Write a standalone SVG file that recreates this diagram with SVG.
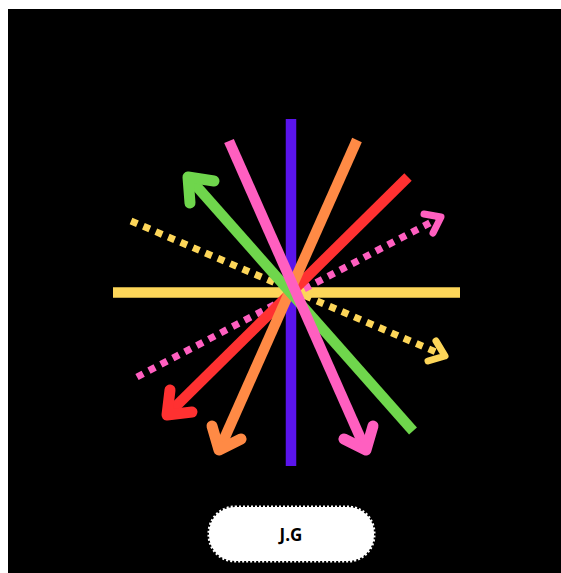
<svg xmlns="http://www.w3.org/2000/svg" width="561" height="573" viewBox="0 0 561 573">
  <style>
    .ln { fill: none; stroke-width: 10.5; stroke-linecap: butt; }
    .hd { fill: none; stroke-width: 11; stroke-linecap: round; stroke-linejoin: round; }
    .dl { fill: none; stroke-width: 7; stroke-dasharray: 7 6.5; }
    .dh { fill: none; stroke-width: 7; stroke-linecap: round; stroke-linejoin: round; }
    .blue { stroke: #5a14ec; }
    .yel { stroke: #fdd659; }
    .pink { stroke: #ff5fc0; }
    .orng { stroke: #ff8a45; }
    .red { stroke: #ff3131; }
    .grn { stroke: #6fd64c; }
  </style>
  <rect x="0" y="0" width="561" height="573" fill="#ffffff"/>
  <rect x="8" y="9" width="553" height="564" fill="#000000"/>
  <g id="connectors">
    <g id="blue-vertical"><line class="ln blue" x1="291" y1="119" x2="291" y2="466"/></g>
    <g id="yellow-horizontal"><line class="ln yel" x1="113" y1="292.5" x2="460" y2="292.5"/></g>
    <g id="yellow-dotted">
      <line class="dl yel" x1="131" y1="221" x2="443" y2="355"/>
      <polyline class="dh yel" points="436,341 445,356 428,361"/>
    </g>
    <g id="pink-dotted">
      <line class="dl pink" x1="137" y1="377" x2="439" y2="218"/>
      <polyline class="dh pink" points="424,214 441,217 433,233"/>
    </g>
    <g id="red-arrow">
      <line class="ln red" x1="408" y1="177" x2="170" y2="412"/>
      <polyline class="hd red" points="170,390 167,415 192,412"/>
    </g>
    <g id="orange-arrow">
      <line class="ln orng" x1="357" y1="140" x2="221" y2="446"/>
      <polyline class="hd orng" points="212,426 219,450 241,439"/>
    </g>
    <g id="green-arrow">
      <line class="ln grn" x1="413" y1="431" x2="191" y2="180"/>
      <polyline class="hd grn" points="190,203 188,177 214,181"/>
    </g>
    <g id="pink-arrow">
      <line class="ln pink" x1="229" y1="141" x2="364" y2="446"/>
      <polyline class="hd pink" points="344,439 366,450 373,426"/>
    </g>
  </g>
  <g id="label">
    <rect x="209" y="507" width="165" height="54" rx="26" fill="#ffffff" stroke="#ffffff" stroke-width="3" stroke-dasharray="2 2"/>
    <text x="291" y="541" text-anchor="middle" font-family="'Open Sans', 'DejaVu Sans', sans-serif" font-weight="700" font-size="17" fill="#000000">J.G</text>
  </g>
</svg>
